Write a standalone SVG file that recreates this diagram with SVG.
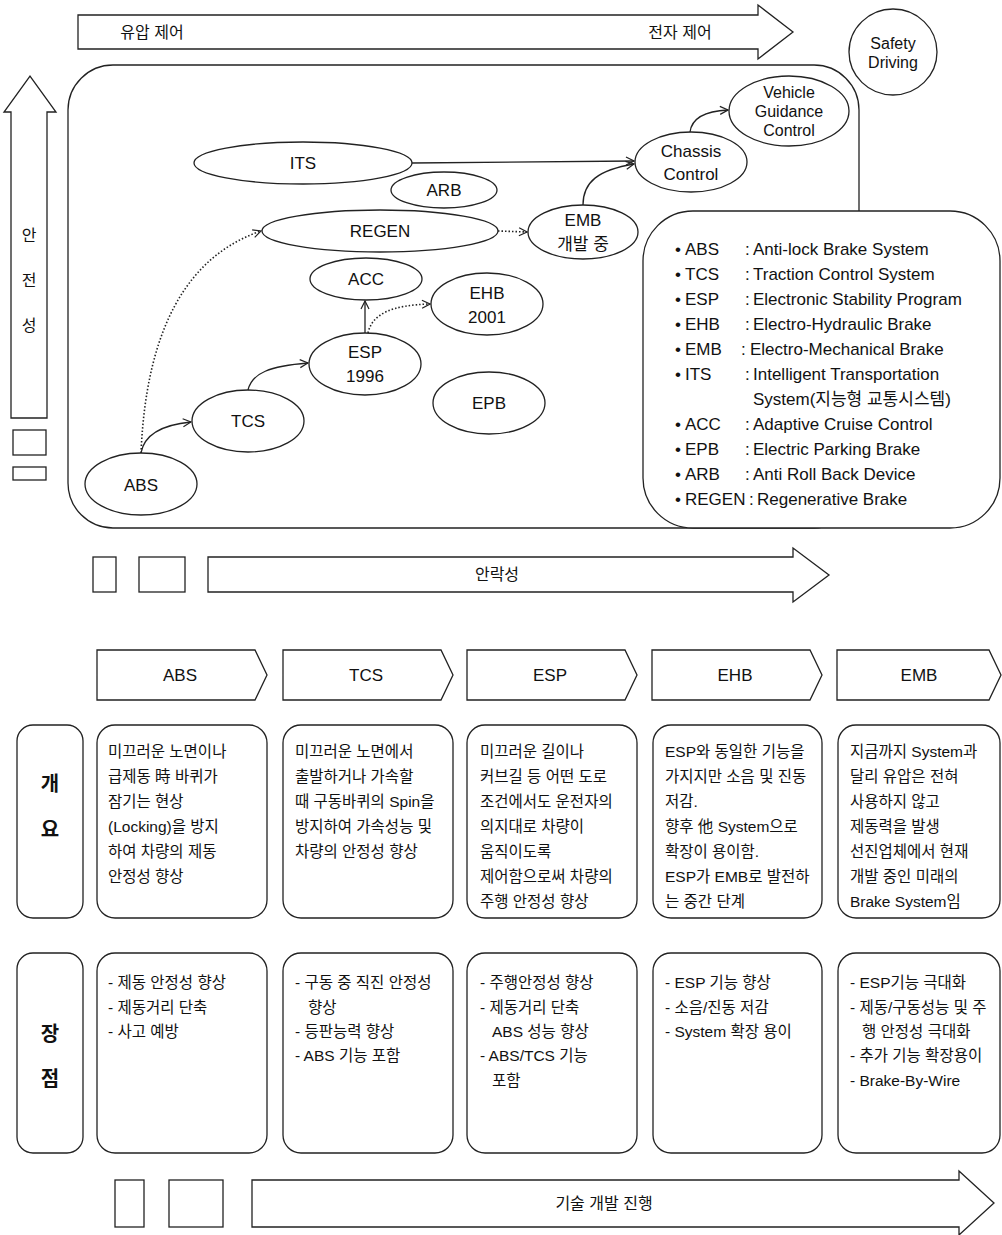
<svg xmlns="http://www.w3.org/2000/svg" width="1002" height="1235" viewBox="0 0 1002 1235">
<style>
.ln{fill:none;stroke:#222;stroke-width:1.3}
.bx{fill:#fff;stroke:#222;stroke-width:1.3}
.dot{fill:none;stroke:#222;stroke-width:1.6;stroke-dasharray:1.5 2}
.t{font-family:"Liberation Sans","Noto Sans CJK KR",sans-serif;font-size:17px;fill:#111;text-anchor:middle;dominant-baseline:central}
.s{font-size:16px}
.lg{font-family:"Liberation Sans","Noto Sans CJK KR",sans-serif;font-size:17px;fill:#111;dominant-baseline:central}
.kb{font-family:"Liberation Sans","Noto Sans CJK KR",sans-serif;font-size:15.5px;fill:#111;dominant-baseline:central}
.hd{font-family:"Noto Sans CJK KR",sans-serif;font-size:20px;font-weight:bold;fill:#111;text-anchor:middle;dominant-baseline:central}
</style>
<defs>
<marker id="ah" viewBox="0 0 10 10" refX="9" refY="5" markerWidth="10" markerHeight="10" markerUnits="userSpaceOnUse" orient="auto">
<path d="M1,1 L9,5 L1,9" fill="none" stroke="#222" stroke-width="1.2"/>
</marker>
</defs>

<!-- top arrow -->
<g id="arrow-control">
<path class="bx" d="M78,15 H758 V5 L793,32 L758,59 V49 H78 Z"/>
<text class="t s" x="152" y="32">유압 제어</text>
<text class="t s" x="680" y="32">전자 제어</text>
</g>

<!-- safety vertical arrow -->
<g id="arrow-safety">
<path class="bx" d="M11,418 V112 H4 L30,76 L56,112 H47 V418 Z"/>
<text class="t s" x="29" y="235">안</text>
<text class="t s" x="29" y="280">전</text>
<text class="t s" x="29" y="325">성</text>
<rect class="bx" x="13" y="430" width="33" height="25"/>
<rect class="bx" x="13" y="467" width="33" height="13"/>
</g>

<!-- big frame -->
<g id="frame">
<rect class="bx" x="68" y="65" width="791" height="463" rx="45"/>
</g>

<g id="safety-driving">
<ellipse class="bx" cx="893" cy="52" rx="44" ry="43"/>
<text class="t s" x="893" y="43">Safety</text>
<text class="t s" x="893" y="62">Driving</text>
</g>

<!-- legend -->
<g id="legend">
<rect class="bx" x="643" y="211" width="357" height="317" rx="50"/>
<g class="lg">
<text x="675" y="249">•</text><text x="685" y="249">ABS</text><text x="745" y="249">:</text><text x="753" y="249">Anti-lock Brake System</text>
<text x="675" y="274">•</text><text x="685" y="274">TCS</text><text x="745" y="274">:</text><text x="753" y="274">Traction Control System</text>
<text x="675" y="299">•</text><text x="685" y="299">ESP</text><text x="745" y="299">:</text><text x="753" y="299">Electronic Stability Program</text>
<text x="675" y="324">•</text><text x="685" y="324">EHB</text><text x="745" y="324">:</text><text x="753" y="324">Electro-Hydraulic Brake</text>
<text x="675" y="349">•</text><text x="685" y="349">EMB</text><text x="741" y="349">:</text><text x="750" y="349">Electro-Mechanical Brake</text>
<text x="675" y="374">•</text><text x="685" y="374">ITS</text><text x="745" y="374">:</text><text x="753" y="374">Intelligent Transportation</text>
<text x="753" y="399">System(지능형 교통시스템)</text>
<text x="675" y="424">•</text><text x="685" y="424">ACC</text><text x="745" y="424">:</text><text x="753" y="424">Adaptive Cruise Control</text>
<text x="675" y="449">•</text><text x="685" y="449">EPB</text><text x="745" y="449">:</text><text x="753" y="449">Electric Parking Brake</text>
<text x="675" y="474">•</text><text x="685" y="474">ARB</text><text x="745" y="474">:</text><text x="753" y="474">Anti Roll Back Device</text>
<text x="675" y="499">•</text><text x="685" y="499">REGEN</text><text x="749" y="499">:</text><text x="757" y="499">Regenerative Brake</text>
</g>
</g>

<!-- nodes -->
<g id="n-its"><ellipse class="bx" cx="303" cy="163" rx="109" ry="21"/><text class="t" x="303" y="163">ITS</text></g>
<g id="n-arb"><ellipse class="bx" cx="444" cy="190" rx="53" ry="18"/><text class="t" x="444" y="190">ARB</text></g>
<g id="n-regen"><ellipse class="bx" cx="380" cy="231" rx="118" ry="21"/><text class="t" x="380" y="231">REGEN</text></g>
<g id="n-emb"><ellipse class="bx" cx="583" cy="232" rx="55" ry="27"/><text class="t" x="583" y="220">EMB</text><text class="t" x="583" y="244">개발 중</text></g>
<g id="n-acc"><ellipse class="bx" cx="366" cy="279" rx="56" ry="21"/><text class="t" x="366" y="279">ACC</text></g>
<g id="n-ehb"><ellipse class="bx" cx="487" cy="304" rx="56" ry="31"/><text class="t" x="487" y="293">EHB</text><text class="t" x="487" y="317">2001</text></g>
<g id="n-esp"><ellipse class="bx" cx="365" cy="364" rx="56" ry="31"/><text class="t" x="365" y="352">ESP</text><text class="t" x="365" y="376">1996</text></g>
<g id="n-epb"><ellipse class="bx" cx="489" cy="403" rx="56" ry="31"/><text class="t" x="489" y="403">EPB</text></g>
<g id="n-tcs"><ellipse class="bx" cx="248" cy="421" rx="56" ry="31"/><text class="t" x="248" y="421">TCS</text></g>
<g id="n-abs"><ellipse class="bx" cx="141" cy="484" rx="56" ry="31"/><text class="t" x="141" y="485">ABS</text></g>
<g id="n-chassis"><ellipse class="bx" cx="691" cy="162" rx="56" ry="30"/><text class="t" x="691" y="151">Chassis</text><text class="t" x="691" y="174">Control</text></g>
<g id="n-vgc"><ellipse class="bx" cx="789" cy="111" rx="60" ry="35"/><text class="t s" x="789" y="92">Vehicle</text><text class="t s" x="789" y="111">Guidance</text><text class="t s" x="789" y="130">Control</text></g>

<!-- connectors -->
<g id="connectors">
<path class="ln" d="M412,163 L634,161" marker-end="url(#ah)"/>
<path class="ln" d="M583,205 C583,182 598,170 634,164" marker-end="url(#ah)"/>
<path class="ln" d="M690,132 C692,117 706,111 728,110" marker-end="url(#ah)"/>
<path class="dot" d="M498,231 L527,232" marker-end="url(#ah)"/>
<path class="dot" d="M141,453 C145,360 170,262 261,231" marker-end="url(#ah)"/>
<path class="ln" d="M141,453 C144,436 160,425 191,422" marker-end="url(#ah)"/>
<path class="ln" d="M248,390 C252,373 270,366 308,363" marker-end="url(#ah)"/>
<path class="ln" d="M365,333 L365,301" marker-end="url(#ah)"/>
<path class="dot" d="M368,333 C372,314 392,305 430,304" marker-end="url(#ah)"/>
</g>

<!-- comfort arrow -->
<g id="arrow-comfort">
<rect class="bx" x="93" y="557" width="23" height="35"/>
<rect class="bx" x="139" y="557" width="46" height="35"/>
<path class="bx" d="M208,557 H793 V548 L829,575 L793,602 V592 H208 Z"/>
<text class="t s" x="497" y="574">안락성</text>
</g>

<!-- chevrons -->
<g id="stage-abs"><path class="bx" d="M97,650 H255 L267,675 L255,700 H97 Z"/><text class="t" x="180" y="675">ABS</text></g>
<g id="stage-tcs"><path class="bx" d="M283,650 H441 L453,675 L441,700 H283 Z"/><text class="t" x="366" y="675">TCS</text></g>
<g id="stage-esp"><path class="bx" d="M467,650 H625 L637,675 L625,700 H467 Z"/><text class="t" x="550" y="675">ESP</text></g>
<g id="stage-ehb"><path class="bx" d="M652,650 H810 L822,675 L810,700 H652 Z"/><text class="t" x="735" y="675">EHB</text></g>
<g id="stage-emb"><path class="bx" d="M837,650 H989 L1001,675 L989,700 H837 Z"/><text class="t" x="919" y="675">EMB</text></g>

<!-- overview row -->
<g id="row-overview">
<rect class="bx" x="17" y="725" width="66" height="193" rx="16"/>
<text class="hd" x="50" y="782">개</text>
<text class="hd" x="50" y="828">요</text>
</g>
<g id="ov-abs">
<rect class="bx" x="97" y="725" width="170" height="193" rx="18"/>
<g class="kb"><text x="108" y="751">미끄러운 노면이나</text><text x="108" y="776">급제동 時 바퀴가</text><text x="108" y="801">잠기는 현상</text><text x="108" y="826">(Locking)을 방지</text><text x="108" y="851">하여 차량의 제동</text><text x="108" y="876">안정성 향상</text></g>
</g>
<g id="ov-tcs">
<rect class="bx" x="283" y="725" width="170" height="193" rx="18"/>
<g class="kb"><text x="295" y="751">미끄러운 노면에서</text><text x="295" y="776">출발하거나 가속할</text><text x="295" y="801">때 구동바퀴의 Spin을</text><text x="295" y="826">방지하여 가속성능 및</text><text x="295" y="851">차량의 안정성 향상</text></g>
</g>
<g id="ov-esp">
<rect class="bx" x="467" y="725" width="170" height="193" rx="18"/>
<g class="kb"><text x="480" y="751">미끄러운 길이나</text><text x="480" y="776">커브길 등 어떤 도로</text><text x="480" y="801">조건에서도 운전자의</text><text x="480" y="826">의지대로 차량이</text><text x="480" y="851">움직이도록</text><text x="480" y="876">제어함으로써 차량의</text><text x="480" y="901">주행 안정성 향상</text></g>
</g>
<g id="ov-ehb">
<rect class="bx" x="653" y="725" width="169" height="193" rx="18"/>
<g class="kb"><text x="665" y="751">ESP와 동일한 기능을</text><text x="665" y="776">가지지만 소음 및 진동</text><text x="665" y="801">저감.</text><text x="665" y="826">향후 他 System으로</text><text x="665" y="851">확장이 용이함.</text><text x="665" y="876">ESP가 EMB로 발전하</text><text x="665" y="901">는 중간 단계</text></g>
</g>
<g id="ov-emb">
<rect class="bx" x="838" y="725" width="162" height="193" rx="18"/>
<g class="kb"><text x="850" y="751">지금까지 System과</text><text x="850" y="776">달리 유압은 전혀</text><text x="850" y="801">사용하지 않고</text><text x="850" y="826">제동력을 발생</text><text x="850" y="851">선진업체에서 현재</text><text x="850" y="876">개발 중인 미래의</text><text x="850" y="901">Brake System임</text></g>
</g>

<!-- advantages row -->
<g id="row-advantages">
<rect class="bx" x="17" y="953" width="66" height="200" rx="16"/>
<text class="hd" x="50" y="1032">장</text>
<text class="hd" x="50" y="1077">점</text>
</g>
<g id="ad-abs">
<rect class="bx" x="97" y="953" width="170" height="200" rx="18"/>
<g class="kb"><text x="108" y="982">- 제동 안정성 향상</text><text x="108" y="1007">- 제동거리 단축</text><text x="108" y="1031">- 사고 예방</text></g>
</g>
<g id="ad-tcs">
<rect class="bx" x="283" y="953" width="170" height="200" rx="18"/>
<g class="kb"><text x="295" y="982">- 구동 중 직진 안정성</text><text x="308" y="1007">향상</text><text x="295" y="1031">- 등판능력 향상</text><text x="295" y="1055">- ABS 기능 포함</text></g>
</g>
<g id="ad-esp">
<rect class="bx" x="467" y="953" width="170" height="200" rx="18"/>
<g class="kb"><text x="480" y="982">- 주행안정성 향상</text><text x="480" y="1007">- 제동거리 단축</text><text x="492" y="1031">ABS 성능 향상</text><text x="480" y="1055">- ABS/TCS 기능</text><text x="492" y="1080">포함</text></g>
</g>
<g id="ad-ehb">
<rect class="bx" x="653" y="953" width="169" height="200" rx="18"/>
<g class="kb"><text x="665" y="982">- ESP 기능 향상</text><text x="665" y="1007">- 소음/진동 저감</text><text x="665" y="1031">- System 확장 용이</text></g>
</g>
<g id="ad-emb">
<rect class="bx" x="838" y="953" width="162" height="200" rx="18"/>
<g class="kb"><text x="850" y="982">- ESP기능 극대화</text><text x="850" y="1007">- 제동/구동성능 및 주</text><text x="862" y="1031">행 안정성 극대화</text><text x="850" y="1055">- 추가 기능 확장용이</text><text x="850" y="1080">- Brake-By-Wire</text></g>
</g>

<!-- development arrow -->
<g id="arrow-development">
<rect class="bx" x="115" y="1180" width="29" height="47"/>
<rect class="bx" x="169" y="1180" width="54" height="47"/>
<path class="bx" d="M252,1180 H959 V1171 L994,1203 L959,1235 V1227 H252 Z"/>
<text class="t s" x="604" y="1203">기술 개발 진행</text>
</g>
</svg>
